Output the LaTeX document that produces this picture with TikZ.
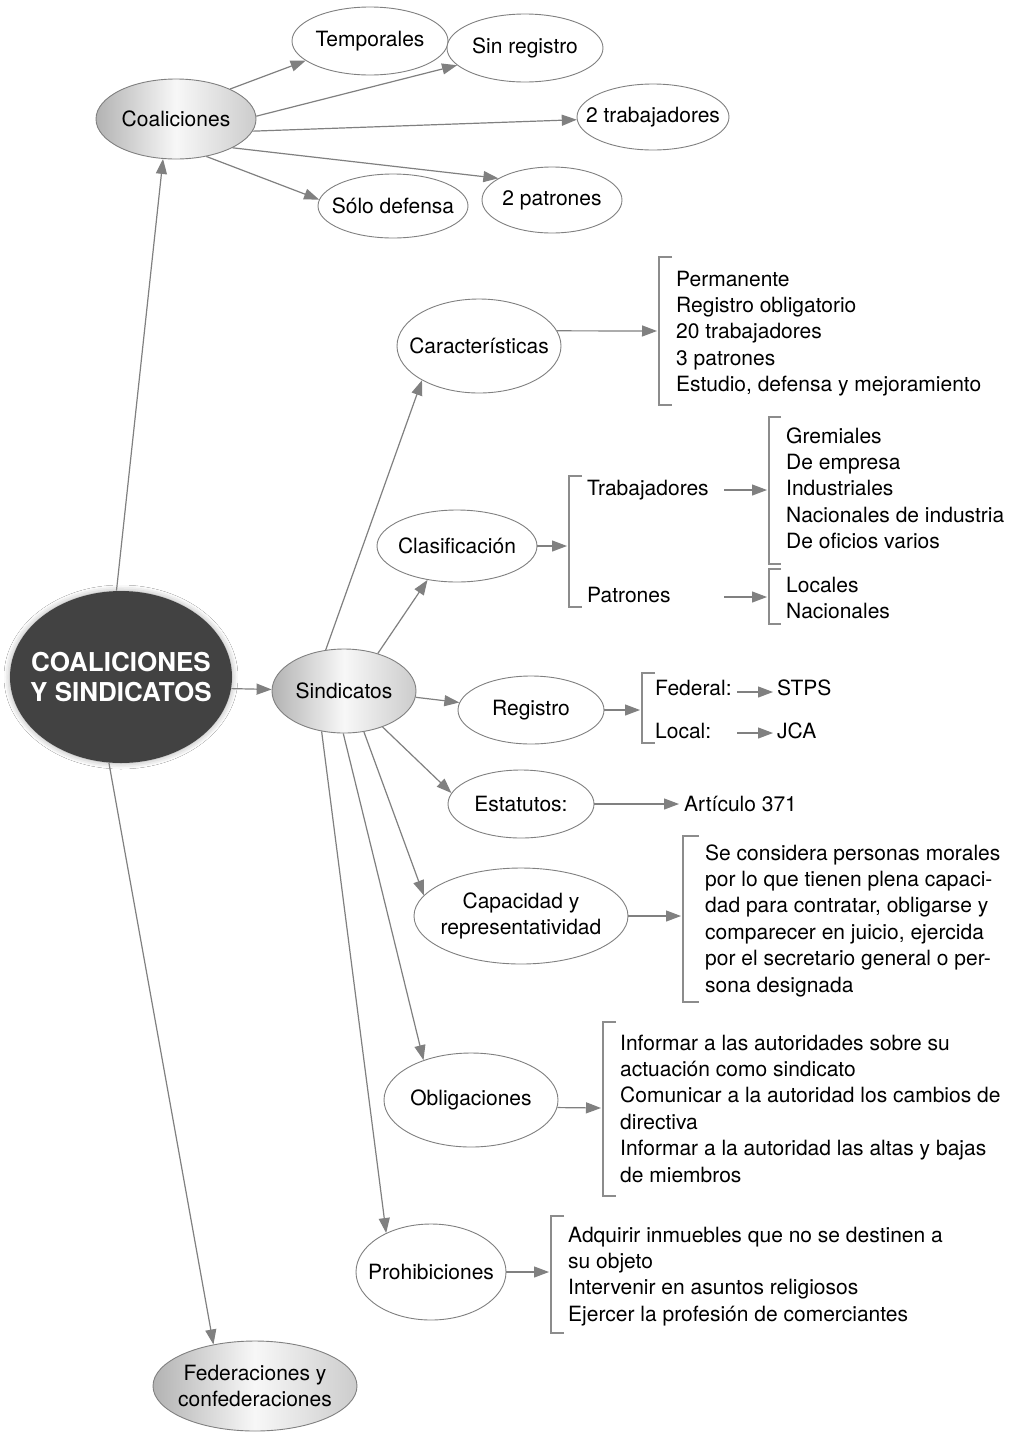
\documentclass[tikz,border=0pt]{standalone}
\usepackage{fontspec}
\setmainfont{TeX Gyre Heros}
\usetikzlibrary{shapes.geometric,arrows.meta,shadows.blur}
\newcommand\zb[1]{\makebox[0pt]{#1}}
\tikzset{
  lbl/.style={font=\fontsize{21}{26.4}\selectfont},
  ell/.style={ellipse, draw=black!50, line width=0.9pt, fill=white, inner sep=0pt, align=center, lbl},
  gell/.style={ell, left color=black!30, right color=black!20, middle color=black!3},
  arr/.style={draw=black!50, line width=1.2pt, -{Triangle[length=15pt,width=11pt]}},
  brk/.style={draw=black!45, line width=1.2pt},
  txt/.style={lbl, inner sep=0pt, align=left, anchor=base west},
}
\begin{document}
\begin{tikzpicture}[x=1pt,y=-1pt]
\path[fill=white] (0,0) rectangle (1019,1433);
\useasboundingbox (0,0) rectangle (1019,1433);

% main nodes
\node[ell, minimum width=222pt, minimum height=172pt, fill=black!74, draw=none,
  blur shadow={shadow xshift=0pt,shadow yshift=0pt,shadow blur radius=6pt,shadow opacity=35,shadow scale=1.0}]
  (main) at (121,677) {};
\node[align=center, text=white, inner sep=0pt, font=\fontsize{26}{30}\selectfont\bfseries]
  (maintxt) at (main.center) {COALICIONES\\Y SINDICATOS};
\node[gell, minimum width=160pt, minimum height=80pt] (coal) at (176,119) {\zb{Coaliciones}};
\node[ell, minimum width=156pt, minimum height=68pt] (temp) at (370,41) {\zb{Temporales}};
\node[ell, minimum width=156pt, minimum height=68pt] (sinr) at (525,48) {\zb{Sin registro}};
\node[ell, minimum width=152pt, minimum height=66pt] (trab2) at (653,117) {\zb{2 trabajadores}};
\node[ell, minimum width=150pt, minimum height=64pt] (solo) at (393,206) {\zb{Sólo defensa}};
\node[ell, minimum width=140pt, minimum height=66pt] (pat2) at (552,200) {\zb{2 patrones}};
\node[gell, minimum width=144pt, minimum height=84pt] (sind) at (344,691) {\zb{Sindicatos}};
\node[ell, minimum width=164pt, minimum height=94pt] (caract) at (479,346) {\zb{Características}};
\node[ell, minimum width=160pt, minimum height=72pt] (clasif) at (457,546) {\zb{Clasificación}};
\node[ell, minimum width=146pt, minimum height=68pt] (reg) at (531,710) {\zb{Registro}};
\node[ell, minimum width=146pt, minimum height=68pt] (estat) at (521,804) {\zb{Estatutos:}};
\node[ell, minimum width=214pt, minimum height=96pt] (capac) at (521,916) {\zb{Capacidad y}\\\zb{representatividad}};
\node[ell, minimum width=174pt, minimum height=94pt] (oblig) at (471,1100) {\zb{Obligaciones}};
\node[ell, minimum width=150pt, minimum height=96pt] (prohib) at (431,1272) {\zb{Prohibiciones}};
\node[gell, minimum width=204pt, minimum height=90pt] (fed) at (255,1386) {\zb{Federaciones y}\\\zb{confederaciones}};

% main edges
\draw[arr] (main.93) -- (coal.-108);
\draw[arr] (main.-6) -- (sind);
\draw[arr] (main.-98) -- (fed.135);

% coaliciones edges
\draw[arr] (coal.29) -- (temp.-163);
\draw[arr] (coal.2) -- (sinr);
\draw[arr] (coal.-9) -- (trab2);
\draw[arr] (coal.-27) -- (pat2.158);
\draw[arr] (coal.-51) -- (solo.175);

% sindicatos edges
\draw[arr] (sind.114) -- (caract.-149);
\draw[arr] (sind.48) -- (clasif.-131);
\draw[arr] (sind.-5) -- (reg.174);
\draw[arr] (sind.-43) -- (estat.171);
\draw[arr] (sind.-64) -- (capac.168);
\draw[arr] (sind.-91) -- (oblig.140);
\draw[arr] (sind.-119) -- (prohib.139);

% arrow end coordinates
\coordinate (ck) at (657,331);
\coordinate (cl) at (567,546);
\coordinate (rg) at (640,710);
\coordinate (es) at (679,804);
\coordinate (cp) at (681,916);
\coordinate (ob) at (601,1108);
\coordinate (pr) at (549,1272);
\coordinate (ta1) at (724,490);
\coordinate (ta2) at (767,490);
\coordinate (pa1) at (724,597);
\coordinate (pa2) at (767,597);
\coordinate (fe1) at (737,692);
\coordinate (fe2) at (773,692);
\coordinate (lo1) at (737,733);
\coordinate (lo2) at (773,733);

\draw[arr] (caract.11) -- (ck);
\draw[arr] (clasif.east) -- (cl);
\draw[arr] (reg.east) -- (rg);
\draw[arr] (estat.east) -- (es);
\draw[arr] (capac.east) -- (cp);
\draw[arr] (oblig.-5) -- (ob);
\draw[arr] (prohib.east) -- (pr);
\draw[arr] (ta1) -- (ta2);
\draw[arr] (pa1) -- (pa2);
\draw[arr] (fe1) -- (fe2);
\draw[arr] (lo1) -- (lo2);

% brackets
\draw[brk] (672,257) -- (659,257) -- (659,405) -- (672,405);
\draw[brk] (582,476) -- (569,476) -- (569,607) -- (582,607);
\draw[brk] (781,417) -- (769,417) -- (769,564) -- (781,564);
\draw[brk] (781,569) -- (769,569) -- (769,624) -- (781,624);
\draw[brk] (655,673) -- (642,673) -- (642,743) -- (655,743);
\draw[brk] (699,836) -- (683,836) -- (683,1002) -- (699,1002);
\draw[brk] (616,1022) -- (603,1022) -- (603,1196) -- (616,1196);
\draw[brk] (564,1216) -- (551,1216) -- (551,1333) -- (564,1333);

% texts (anchored at the baseline of their last line)
\node[txt] (tcar) at (676,391.6) {Permanente\\Registro obligatorio\\20 trabajadores\\3 patrones\\Estudio, defensa y mejoramiento};
\node[txt] (ttra) at (587,495) {Trabajadores};
\node[txt] (tpat) at (587,602) {Patrones};
\node[txt] (tgre) at (786,548.6) {Gremiales\\De empresa\\Industriales\\Nacionales de industria\\De oficios varios};
\node[txt] (tloc) at (786,618.4) {Locales\\Nacionales};
\node[txt] (tfed) at (655,695) {Federal:};
\node[txt] (tlocal) at (655,738) {Local:};
\node[txt] (tstps) at (777,695) {STPS};
\node[txt] (tjca) at (777,738) {JCA};
\node[txt] (tart) at (684,811) {Artículo 371};
\node[txt] (tcap) at (705,992) {Se considera personas morales\\por lo que tienen plena capaci-\\dad para contratar, obligarse y\\comparecer en juicio, ejercida\\por el secretario general o per-\\sona designada};
\node[txt] (tobl) at (620,1182) {Informar a las autoridades sobre su\\actuación como sindicato\\Comunicar a la autoridad los cambios de\\directiva\\Informar a la autoridad las altas y bajas\\de miembros};
\node[txt] (tpro) at (568,1321.2) {Adquirir inmuebles que no se destinen a\\su objeto\\Intervenir en asuntos religiosos\\Ejercer la profesión de comerciantes};
\end{tikzpicture}
\end{document}
